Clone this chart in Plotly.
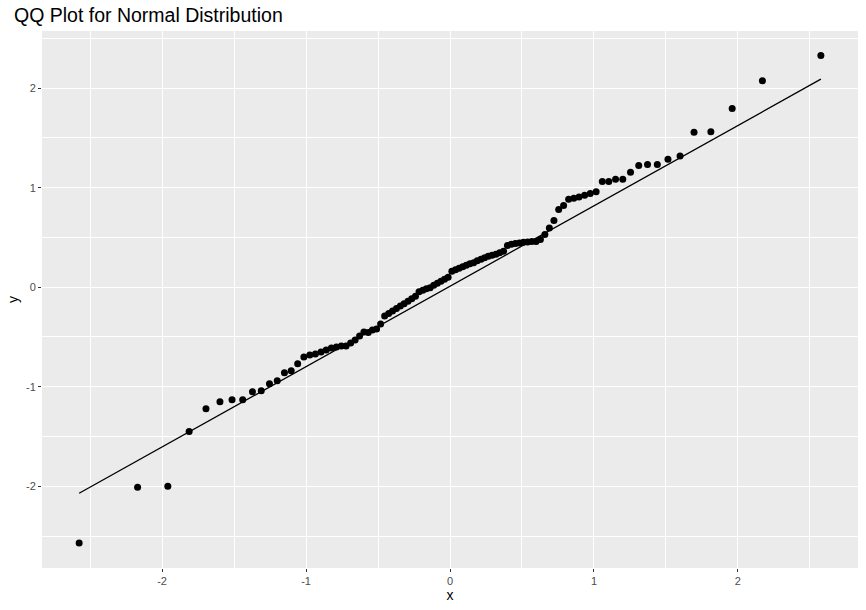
import plotly.graph_objects as go

# Theoretical normal quantiles (x)
theoretical = [
    -2.576, -2.170, -1.960, -1.812, -1.695, -1.598, -1.514, -1.440, -1.372, -1.311,
    -1.254, -1.200, -1.150, -1.103, -1.058, -1.015, -0.974, -0.935, -0.896, -0.860,
    -0.824, -0.789, -0.755, -0.722, -0.690, -0.659, -0.628, -0.598, -0.568, -0.539,
    -0.510, -0.482, -0.454, -0.426, -0.399, -0.372, -0.345, -0.319, -0.292, -0.266,
    -0.240, -0.215, -0.189, -0.164, -0.138, -0.113, -0.088, -0.063, -0.038, -0.013,
    0.013, 0.038, 0.063, 0.088, 0.113, 0.138, 0.164, 0.189, 0.215, 0.240,
    0.266, 0.292, 0.319, 0.345, 0.372, 0.399, 0.426, 0.454, 0.482, 0.510,
    0.539, 0.568, 0.598, 0.628, 0.659, 0.690, 0.722, 0.755, 0.789, 0.824,
    0.860, 0.896, 0.935, 0.974, 1.015, 1.058, 1.103, 1.150, 1.200, 1.254,
    1.311, 1.372, 1.440, 1.514, 1.598, 1.695, 1.812, 1.960, 2.170, 2.576,
]

# Sample quantiles (y)
sample = [
    -2.57, -2.01, -2.00, -1.45, -1.22, -1.15, -1.13, -1.13, -1.05, -1.04,
    -0.97, -0.94, -0.86, -0.84, -0.77, -0.70, -0.68, -0.67, -0.65, -0.63,
    -0.61, -0.60, -0.59, -0.59, -0.56, -0.53, -0.49, -0.45, -0.455, -0.43,
    -0.42, -0.37, -0.29, -0.264, -0.24, -0.214, -0.19, -0.165, -0.14, -0.115,
    -0.09, -0.045, -0.03, -0.015, -0.005, 0.02, 0.04, 0.06, 0.08, 0.10,
    0.16, 0.175, 0.19, 0.205, 0.22, 0.235, 0.245, 0.265, 0.28, 0.295,
    0.31, 0.32, 0.33, 0.345, 0.362, 0.419, 0.432, 0.439, 0.445, 0.452,
    0.455, 0.459, 0.459, 0.48, 0.53, 0.595, 0.67, 0.78, 0.82, 0.884,
    0.893, 0.907, 0.924, 0.941, 0.96, 1.062, 1.062, 1.085, 1.085, 1.156,
    1.223, 1.233, 1.233, 1.286, 1.317, 1.558, 1.563, 1.796, 2.073, 2.329,
]

# Reference line endpoints
line_x = [-2.576, 2.576]
line_y = [-2.07, 2.09]

x_ticks = [-2, -1, 0, 1, 2]
y_ticks = [-2, -1, 0, 1, 2]

FONT = "Liberation Sans, Arial, sans-serif"

fig = go.Figure()
fig.add_trace(go.Scatter(
    x=theoretical, y=sample, mode="markers",
    marker=dict(color="black", size=7, line=dict(width=0)),
    showlegend=False, hoverinfo="x+y",
))
fig.add_trace(go.Scatter(
    x=line_x, y=line_y, mode="lines",
    line=dict(color="black", width=1.3),
    showlegend=False, hoverinfo="skip",
))

axis_common = dict(
    showgrid=True, gridcolor="white", gridwidth=1.1,
    zeroline=False, showline=False,
    ticks="outside", ticklen=3, tickwidth=1, tickcolor="#333333",
    tickfont=dict(family=FONT, size=11, color="#4d4d4d"),
    minor=dict(dtick=0.5, tick0=0, showgrid=True, gridcolor="white", gridwidth=0.5, ticks=""),
    automargin=False,
)

fig.update_layout(
    width=866, height=610,
    paper_bgcolor="white", plot_bgcolor="#ebebeb",
    margin=dict(l=42, r=8, t=31, b=42),
    title=dict(
        text="QQ Plot for Normal Distribution",
        x=14 / 866, xanchor="left", y=1 - 15 / 610, yanchor="middle",
        font=dict(family=FONT, size=19.5, color="black"),
    ),
    xaxis=dict(
        axis_common, range=[-2.834, 2.834], tickvals=x_ticks,
        ticktext=[str(v) for v in x_ticks],
        title=dict(text="x", standoff=3, font=dict(family=FONT, size=14, color="black")),
    ),
    yaxis=dict(
        axis_common, range=[-2.821, 2.574], tickvals=y_ticks,
        ticktext=[str(v) for v in y_ticks],
        title=dict(text="y", standoff=4, font=dict(family=FONT, size=14, color="black")),
    ),
)

fig.write_html(
    "out.html",
    config={"displayModeBar": False},
    post_script="document.body.style.margin='0px';document.body.style.padding='0px';",
)
